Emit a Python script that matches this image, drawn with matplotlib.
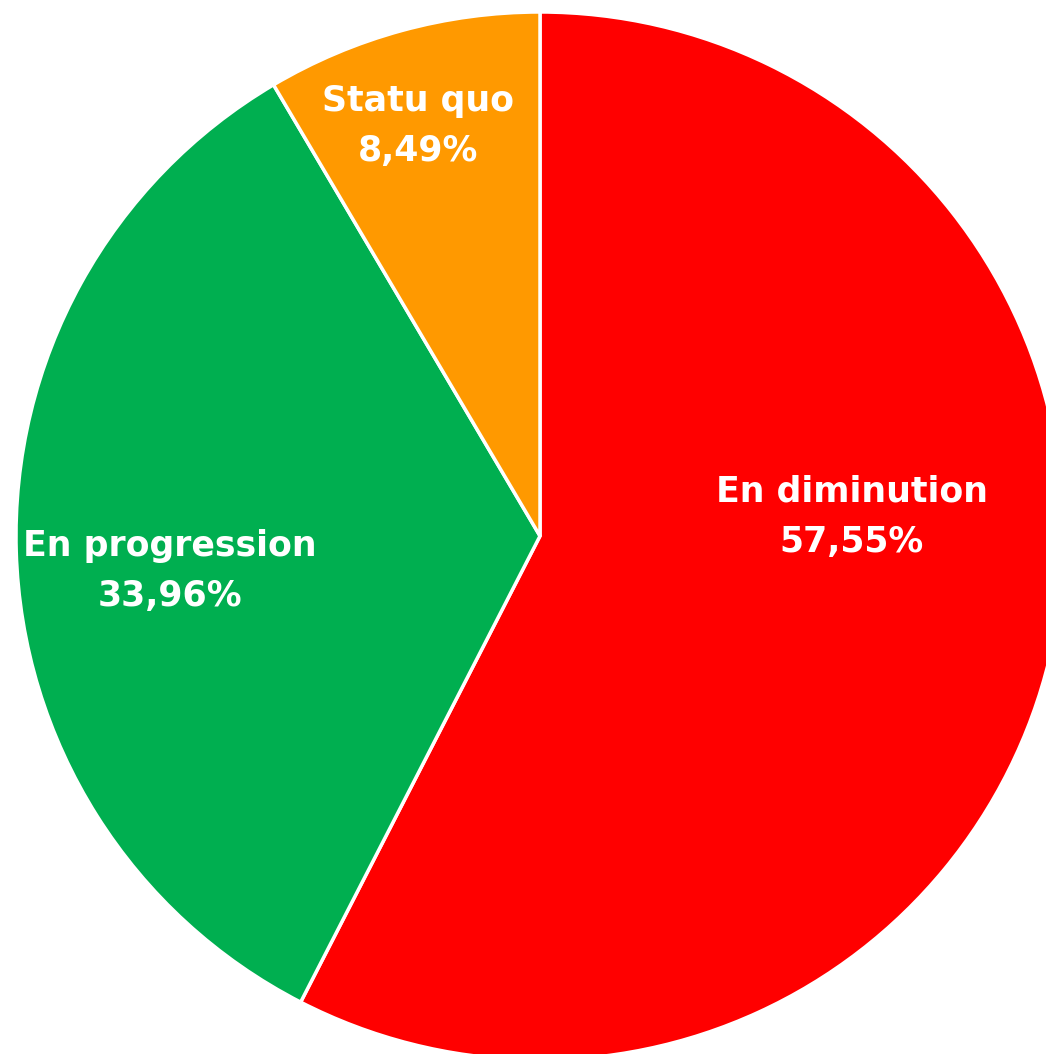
import matplotlib
matplotlib.use("Agg")
import matplotlib.pyplot as plt

categories = ["En diminution", "En progression", "Statu quo"]
values = [57.55, 33.96, 8.49]
value_labels = ["57,55%", "33,96%", "8,49%"]
colors = ["#FF0000", "#00AF50", "#FF9900"]

W, H = 1046, 1054
fig = plt.figure(figsize=(W / 100, H / 100), dpi=100)
ax = fig.add_axes([0, 0, 1, 1])

cx, cy, r = 540, H - 536, 524
ax.pie(values, colors=colors, startangle=90, counterclock=False,
       center=(cx, cy), radius=r, frame=True,
       wedgeprops=dict(edgecolor="white", linewidth=2.5))
ax.set_xlim(0, W)
ax.set_ylim(0, H)
ax.set_aspect("equal")
ax.axis("off")

label_pos = [(852, H - 517), (170, H - 571), (418, H - 126)]
for (x, y), cat, v in zip(label_pos, categories, value_labels):
    ax.text(x, y, f"{cat}\n{v}", color="white", fontsize=25, fontweight="bold",
            family="DejaVu Sans", ha="center", va="center", linespacing=1.62)

fig.savefig("out.png", dpi=100)
